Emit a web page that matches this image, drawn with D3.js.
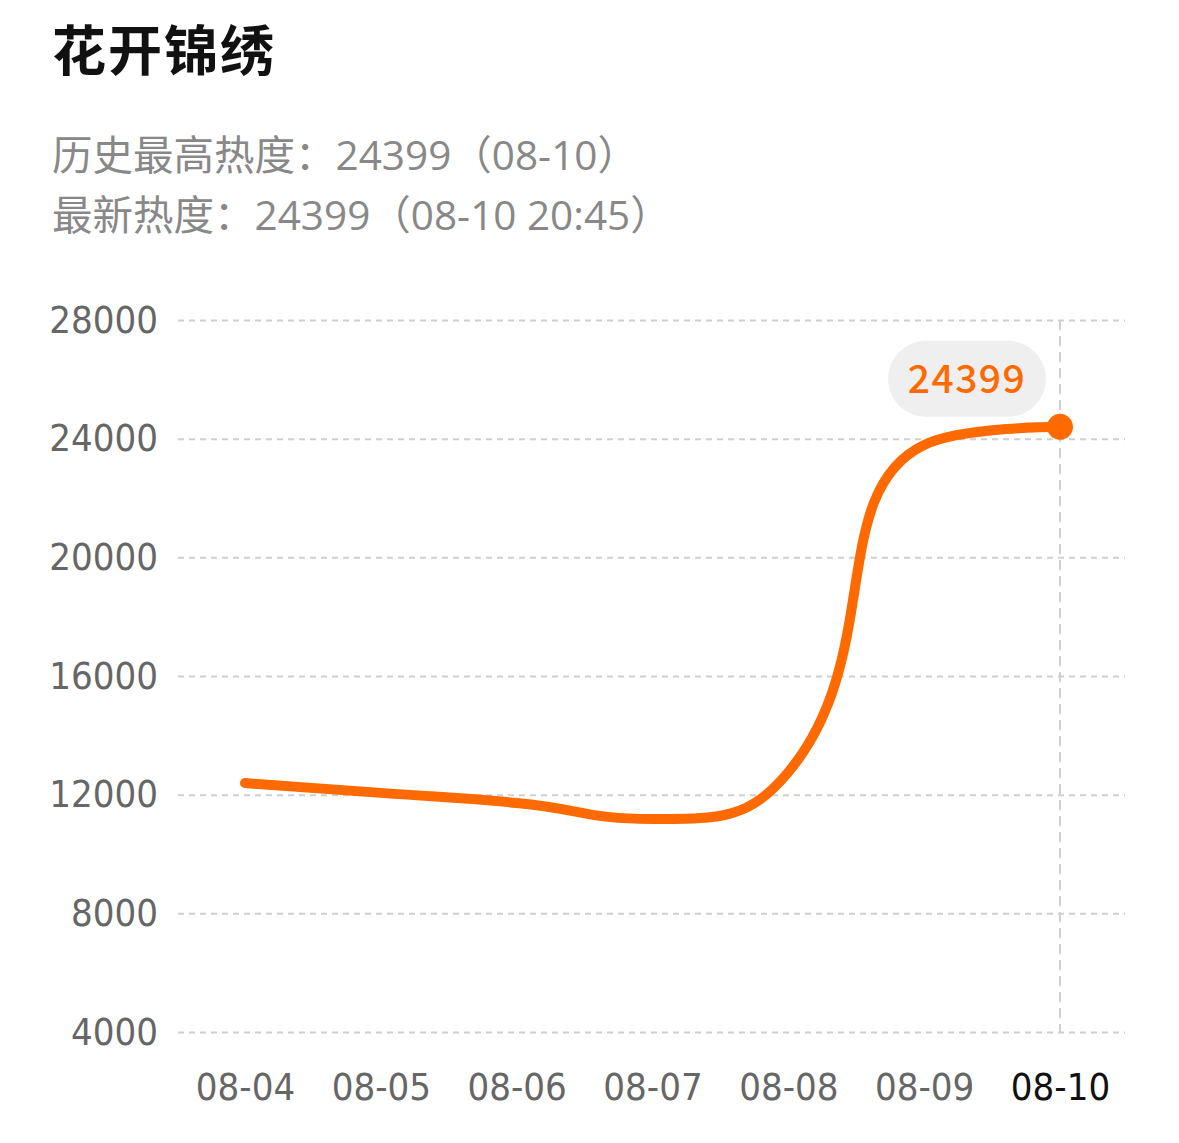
<!DOCTYPE html>
<html>
<head>
<meta charset="utf-8">
<script src="https://cdn.jsdelivr.net/npm/d3@7/dist/d3.min.js"></script>
<style>
  html, body { margin: 0; padding: 0; background: #fff; }
  svg { display: block; }
</style>
</head>
<body>
<div id="holder"></div>
<script>
const title = '花开锦绣';
const subtitles = ['历史最高热度：24399（08-10）', '最新热度：24399（08-10 20:45）'];
const dates = ['08-04', '08-05', '08-06', '08-07', '08-08', '08-09', '08-10'];
const values = [12390, 12060, 11720, 11180, 12760, 23790, 24399];
const yTicks = [4000, 8000, 12000, 16000, 20000, 24000, 28000];
const latest = 24399;

const w = 1179;
const h = 1143;
const orange = '#ff6a00';
const numFont = '"DejaVu Sans Condensed", "DejaVu Sans", sans-serif';
const cjkFont = '"Noto Sans CJK SC", "Noto Sans", sans-serif';
const subFont = '"Open Sans", "Noto Sans CJK SC", sans-serif';

// line smoothing in the style of echarts "smooth: true"
function SmoothCurve(context) {
    this._context = context;
    this._smooth = 0.5;
}
SmoothCurve.prototype = {
    areaStart() {},
    areaEnd() {},
    lineStart() { this._pts = []; },
    point(x, y) { this._pts.push([+x, +y]); },
    lineEnd() {
        const ctx = this._context, pts = this._pts, s = this._smooth;
        const n = pts.length;
        if (!n) return;
        let cpx0, cpy0, prevX, prevY;
        for (let i = 0; i < n; i++) {
            const x = pts[i][0], y = pts[i][1];
            if (i === 0) {
                ctx.moveTo(x, y);
                cpx0 = x; cpy0 = y;
            } else {
                let cpx1, cpy1, nextCpx0, nextCpy0;
                if (i === n - 1) {
                    cpx1 = x; cpy1 = y;
                } else {
                    const nextX = pts[i + 1][0], nextY = pts[i + 1][1];
                    let vx = nextX - prevX, vy = nextY - prevY;
                    const dx0 = x - prevX, dx1 = nextX - x;
                    const dy0 = y - prevY, dy1 = nextY - y;
                    const lenPrev = Math.sqrt(dx0 * dx0 + dy0 * dy0);
                    const lenNext = Math.sqrt(dx1 * dx1 + dy1 * dy1);
                    const ratio = lenNext / (lenNext + lenPrev);
                    nextCpx0 = x + vx * s * ratio;
                    nextCpy0 = y + vy * s * ratio;
                    nextCpx0 = Math.max(Math.min(nextCpx0, Math.max(nextX, x)), Math.min(nextX, x));
                    nextCpy0 = Math.max(Math.min(nextCpy0, Math.max(nextY, y)), Math.min(nextY, y));
                    vx = nextCpx0 - x; vy = nextCpy0 - y;
                    cpx1 = x - vx * lenPrev / lenNext;
                    cpy1 = y - vy * lenPrev / lenNext;
                    cpx1 = Math.max(Math.min(cpx1, Math.max(prevX, x)), Math.min(prevX, x));
                    cpy1 = Math.max(Math.min(cpy1, Math.max(prevY, y)), Math.min(prevY, y));
                    vx = x - cpx1; vy = y - cpy1;
                    nextCpx0 = x + vx * lenNext / lenPrev;
                    nextCpy0 = y + vy * lenNext / lenPrev;
                }
                ctx.bezierCurveTo(cpx0, cpy0, cpx1, cpy1, x, y);
                cpx0 = nextCpx0; cpy0 = nextCpy0;
            }
            prevX = x; prevY = y;
        }
    }
};
const curveSmooth = ctx => new SmoothCurve(ctx);

const svg = d3.select('#holder')
    .append('svg')
    .attr('width', w)
    .attr('height', h);

svg.append('text')
    .attr('x', 52)
    .attr('y', 71)
    .attr('font-family', cjkFont)
    .attr('font-weight', 700)
    .attr('font-size', 54)
    .attr('letter-spacing', 2)
    .attr('fill', '#111')
    .text(title);

svg.selectAll('.sub')
    .data(subtitles)
    .enter()
    .append('text')
    .attr('class', 'sub')
    .attr('x', 52)
    .attr('y', (_, i) => 170 + i * 60)
    .attr('font-family', subFont)
    .attr('font-size', 40.5)
    .attr('fill', '#888')
    .text(d => d);

const xScale = d3.scalePoint()
    .domain(dates)
    .range([245, 1060]);

const yScale = d3.scaleLinear()
    .domain([4000, 28000])
    .range([1032, 320]);

// horizontal grid
const yAxis = d3.axisLeft(yScale)
    .tickValues(yTicks)
    .tickSize(-(1125 - 178))
    .tickPadding(20)
    .tickFormat(d3.format('d'));

const gy = svg.append('g')
    .attr('transform', 'translate(178,0)')
    .call(yAxis);
gy.select('.domain').remove();
gy.selectAll('line')
    .attr('stroke', '#cfcfcf')
    .attr('stroke-width', 2)
    .attr('stroke-dasharray', '6,5');
gy.selectAll('text')
    .attr('font-family', numFont)
    .attr('font-size', 38)
    .attr('fill', '#666');

// vertical marker at the latest point
svg.append('line')
    .attr('x1', xScale(dates[dates.length - 1]))
    .attr('x2', xScale(dates[dates.length - 1]))
    .attr('y1', yScale(28000))
    .attr('y2', yScale(4000))
    .attr('stroke', '#cfcfcf')
    .attr('stroke-width', 2)
    .attr('stroke-dasharray', '10,6');

const xAxis = d3.axisBottom(xScale)
    .tickSize(0)
    .tickPadding(0);

const gx = svg.append('g')
    .attr('transform', 'translate(0,1062)')
    .call(xAxis);
gx.select('.domain').remove();
gx.selectAll('text')
    .attr('font-family', numFont)
    .attr('font-size', 38)
    .attr('dy', '1em')
    .attr('fill', (d, i) => i === dates.length - 1 ? '#111' : '#666');

const line = d3.line()
    .x((_, i) => xScale(dates[i]))
    .y(d => yScale(d))
    .curve(curveSmooth);

svg.append('path')
    .datum(values)
    .attr('d', line)
    .attr('fill', 'none')
    .attr('stroke', orange)
    .attr('stroke-width', 10)
    .attr('stroke-linecap', 'round')
    .attr('stroke-linejoin', 'round');

const lx = xScale(dates[dates.length - 1]);
const ly = yScale(latest);

svg.append('circle')
    .attr('cx', lx)
    .attr('cy', ly)
    .attr('r', 13)
    .attr('fill', orange);

const tip = svg.append('g')
    .attr('transform', 'translate(' + (lx - 93) + ',' + (ly - 48) + ')');
tip.append('rect')
    .attr('x', -79)
    .attr('y', -38)
    .attr('width', 158)
    .attr('height', 76)
    .attr('rx', 38)
    .attr('fill', '#efefef');
tip.append('text')
    .attr('text-anchor', 'middle')
    .attr('y', 14)
    .attr('font-family', cjkFont)
    .attr('font-size', 39)
    .attr('font-weight', 500)
    .attr('letter-spacing', 1.5)
    .attr('fill', orange)
    .text(latest);
</script>
</body>
</html>
